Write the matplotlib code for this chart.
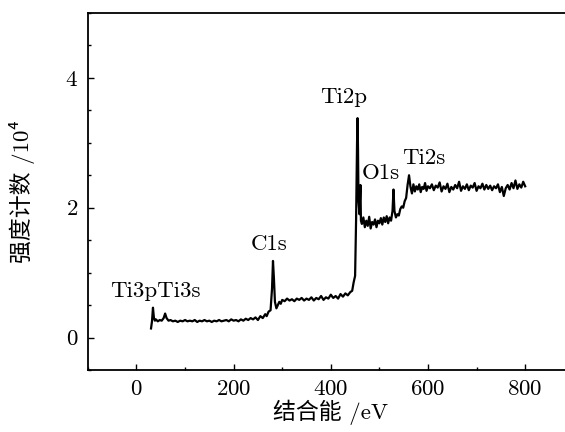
import numpy as np
import matplotlib.pyplot as plt

plt.rcParams['font.family'] = ['cmr10', 'Noto Sans CJK SC', 'DejaVu Sans']
plt.rcParams['mathtext.fontset'] = 'cm'
plt.rcParams['axes.formatter.use_mathtext'] = True

# XPS 全谱 (结合能 eV, 强度 /10^4)
energy = [30, 32, 34, 36, 38, 40, 44, 48, 52, 56, 59, 62, 66, 70, 75, 80, 85, 90, 95,
          100, 105, 110, 115, 120, 125, 130, 135, 140, 145, 150, 155, 160, 165, 170,
          175, 180, 185, 190, 195, 200, 205, 210, 215, 220, 225, 230, 235, 240, 245,
          250, 255, 260, 265, 268, 272, 276, 279, 281, 283, 285, 288, 291, 294, 297,
          300, 305, 310, 315, 320, 325, 330, 335, 340, 345, 350, 355, 360, 365, 370,
          375, 380, 385, 390, 395, 400, 405, 410, 415, 420, 425, 430, 435, 440, 444,
          447, 450, 452, 454, 455, 456, 457, 459, 461, 462, 464, 467, 470, 473, 476,
          479, 482, 485, 488, 491, 494, 497, 500, 503, 506, 509, 512, 515, 518, 521,
          524, 527, 529, 531, 534, 537, 540, 543, 546, 549, 552, 555, 558, 561, 564,
          567, 570, 573, 576, 579, 582, 585, 588, 591, 594, 597, 600,
          604, 608, 612, 616, 620, 624, 628, 632, 636, 640, 644, 648, 652, 656, 660,
          664, 668, 672, 676, 680, 684, 688, 692, 696, 700, 704, 708, 712, 716, 720,
          724, 728, 732, 736, 740, 744, 748, 752, 756, 760, 764, 768, 772, 776, 780,
          784, 788, 792, 796, 800]
counts = [0.14, 0.25, 0.46, 0.30, 0.26, 0.28, 0.25, 0.27, 0.26, 0.30, 0.37, 0.30, 0.26,
          0.27, 0.25, 0.26, 0.24, 0.26, 0.25, 0.27, 0.25, 0.26, 0.25, 0.27, 0.24, 0.26,
          0.25, 0.27, 0.25, 0.26, 0.24, 0.26, 0.25, 0.27, 0.25, 0.26, 0.27, 0.25, 0.28,
          0.26, 0.27, 0.25, 0.28, 0.26, 0.29, 0.27, 0.30, 0.28, 0.31, 0.27, 0.33, 0.30,
          0.36, 0.33, 0.40, 0.42, 0.75, 1.18, 0.90, 0.55, 0.45, 0.50, 0.55, 0.52,
          0.58, 0.56, 0.60, 0.57, 0.59, 0.56, 0.60, 0.58, 0.61, 0.57, 0.60, 0.58, 0.62,
          0.57, 0.61, 0.59, 0.64, 0.58, 0.62, 0.60, 0.66, 0.61, 0.64, 0.60, 0.67, 0.63,
          0.68, 0.65, 0.70, 0.72, 0.85, 0.95, 1.80, 3.00, 3.38, 2.90, 2.10, 1.90, 2.35,
          1.80, 1.75, 1.85, 1.70, 1.80, 1.72, 1.86, 1.68, 1.78, 1.74, 1.82, 1.70, 1.80,
          1.76, 1.84, 1.74, 1.85, 1.78, 1.87, 1.76, 1.85, 1.80, 1.95, 2.28, 1.95, 1.85,
          1.90, 1.88, 1.98, 2.02, 2.00, 2.10, 2.15, 2.35, 2.50, 2.32, 2.22, 2.36, 2.25,
          2.33, 2.28, 2.36, 2.24, 2.32, 2.29, 2.38, 2.26, 2.33,
          2.30, 2.36, 2.27, 2.34, 2.31, 2.39, 2.25, 2.33, 2.29, 2.37, 2.24, 2.32, 2.28,
          2.35, 2.30, 2.40, 2.26, 2.33, 2.29, 2.36, 2.27, 2.34, 2.31, 2.38, 2.26, 2.33,
          2.30, 2.37, 2.28, 2.35, 2.29, 2.34, 2.27, 2.33, 2.30, 2.36, 2.24, 2.32, 2.18,
          2.30, 2.35, 2.28, 2.38, 2.30, 2.42, 2.29, 2.36, 2.31, 2.40, 2.33]

# 峰标注
peak_names = ['Ti3pTi3s', 'C1s', 'Ti2p', 'O1s', 'Ti2s']
peak_x = [39, 274, 427, 503, 592]
peak_y = [0.71, 1.44, 3.70, 2.53, 2.76]

fs = 16.5

fig = plt.figure(figsize=(5.65, 4.32), dpi=100)
ax = fig.add_axes([0.1555, 0.1435, 0.86, 0.8265])
ax.plot(energy, counts, color='black', lw=1.6)

for name, x, y in zip(peak_names, peak_x, peak_y):
    ax.text(x, y, name, fontsize=fs, ha='center', va='center')

ax.set_xlim(-100, 900)
ax.set_ylim(-0.5, 5)
ax.set_xticks([0, 200, 400, 600, 800])
ax.set_xticks(np.arange(-100, 901, 100), minor=True)
ax.set_yticks([0, 2, 4])
ax.set_yticks(np.arange(-0.5, 5.01, 0.5), minor=True)
ax.tick_params(which='both', direction='in', top=False, right=False, labelsize=fs)
ax.tick_params(which='major', length=4, width=1, pad=7)
ax.tick_params(which='minor', length=2.5, width=1)
for s in ax.spines.values():
    s.set_linewidth(1.3)

ax.set_xlabel('结合能 /eV', fontsize=fs, labelpad=0, fontweight='light')
ax.set_ylabel('强度计数 /10⁴', fontsize=fs, labelpad=22, fontweight='light')

fig.savefig('out.png', dpi=100)
